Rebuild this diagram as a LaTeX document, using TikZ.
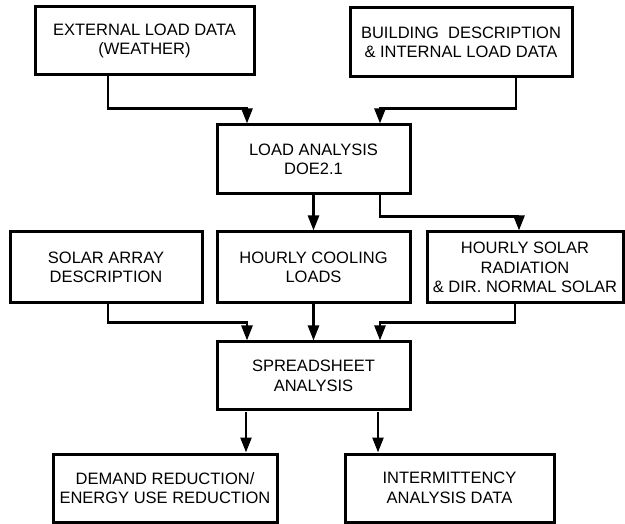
\documentclass[tikz,border=0pt]{standalone}
\usepackage{fontspec}
\setmainfont{Liberation Sans}
\usetikzlibrary{arrows.meta}
\begin{document}
\begin{tikzpicture}[x=1pt,y=-1pt,
  box/.style={draw=black,line width=3pt,inner sep=0pt,align=center,
    font=\fontsize{16.5}{19.5}\selectfont},
  conn/.style={line width=2.6pt,-{Triangle[length=15pt,width=11pt]}}]
\fill[white] (0,0) rectangle (625,524);
\useasboundingbox (0,0) rectangle (625,524);
\node[box,minimum width=219pt,minimum height=68pt] (ext) at (144.5,41) {EXTERNAL LOAD DATA\\(WEATHER)};
\node[box,minimum width=222pt,minimum height=69pt] (bld) at (461,42.5) {BUILDING\ \ DESCRIPTION\\\& INTERNAL LOAD DATA};
\node[box,minimum width=193pt,minimum height=69pt] (load) at (313.5,159.5) {LOAD ANALYSIS\\DOE2.1};
\node[box,minimum width=192pt,minimum height=71pt] (solar) at (106,267.5) {SOLAR ARRAY\\DESCRIPTION};
\node[box,minimum width=193pt,minimum height=71pt] (cool) at (313.5,267.5) {HOURLY COOLING\\LOADS};
\node[box,minimum width=196pt,minimum height=71pt] (hourly) at (525,267.5) {HOURLY SOLAR\\RADIATION\\\& DIR. NORMAL SOLAR};
\node[box,minimum width=193pt,minimum height=68pt] (sheet) at (313.5,376) {SPREADSHEET\\ANALYSIS};
\node[box,minimum width=224pt,minimum height=68pt] (demand) at (165,488) {DEMAND REDUCTION/\\ENERGY USE REDUCTION};
\node[box,minimum width=209pt,minimum height=68pt] (inter) at (449.5,488) {INTERMITTENCY\\ANALYSIS DATA};
% top inputs to load analysis
\draw[conn] ([xshift=-36.5pt]ext.south) -- ++(0,32) -| ([xshift=-66.5pt]load.north);
\draw[conn] ([xshift=55pt]bld.south) -- ++(0,30) -| ([xshift=66.5pt]load.north);
% load analysis outputs
\draw[conn] (load.south) -- (cool.north);
\draw[conn] ([xshift=66.5pt]load.south) -- ++(0,21) -| ([xshift=-6pt]hourly.north);
% middle row to spreadsheet
\draw[conn] ([xshift=2pt]solar.south) -- ++(0,18) -| ([xshift=-66.5pt]sheet.north);
\draw[conn] (cool.south) -- (sheet.north);
\draw[conn] ([xshift=-10pt]hourly.south) -- ++(0,18) -| ([xshift=66.5pt]sheet.north);
% spreadsheet outputs
\draw[conn] ([xshift=-67.5pt]sheet.south) -- ([xshift=-67.5pt]sheet.south |- demand.north);
\draw[conn] ([xshift=64.5pt]sheet.south) -- ([xshift=64.5pt]sheet.south |- inter.north);
\end{tikzpicture}
\end{document}
